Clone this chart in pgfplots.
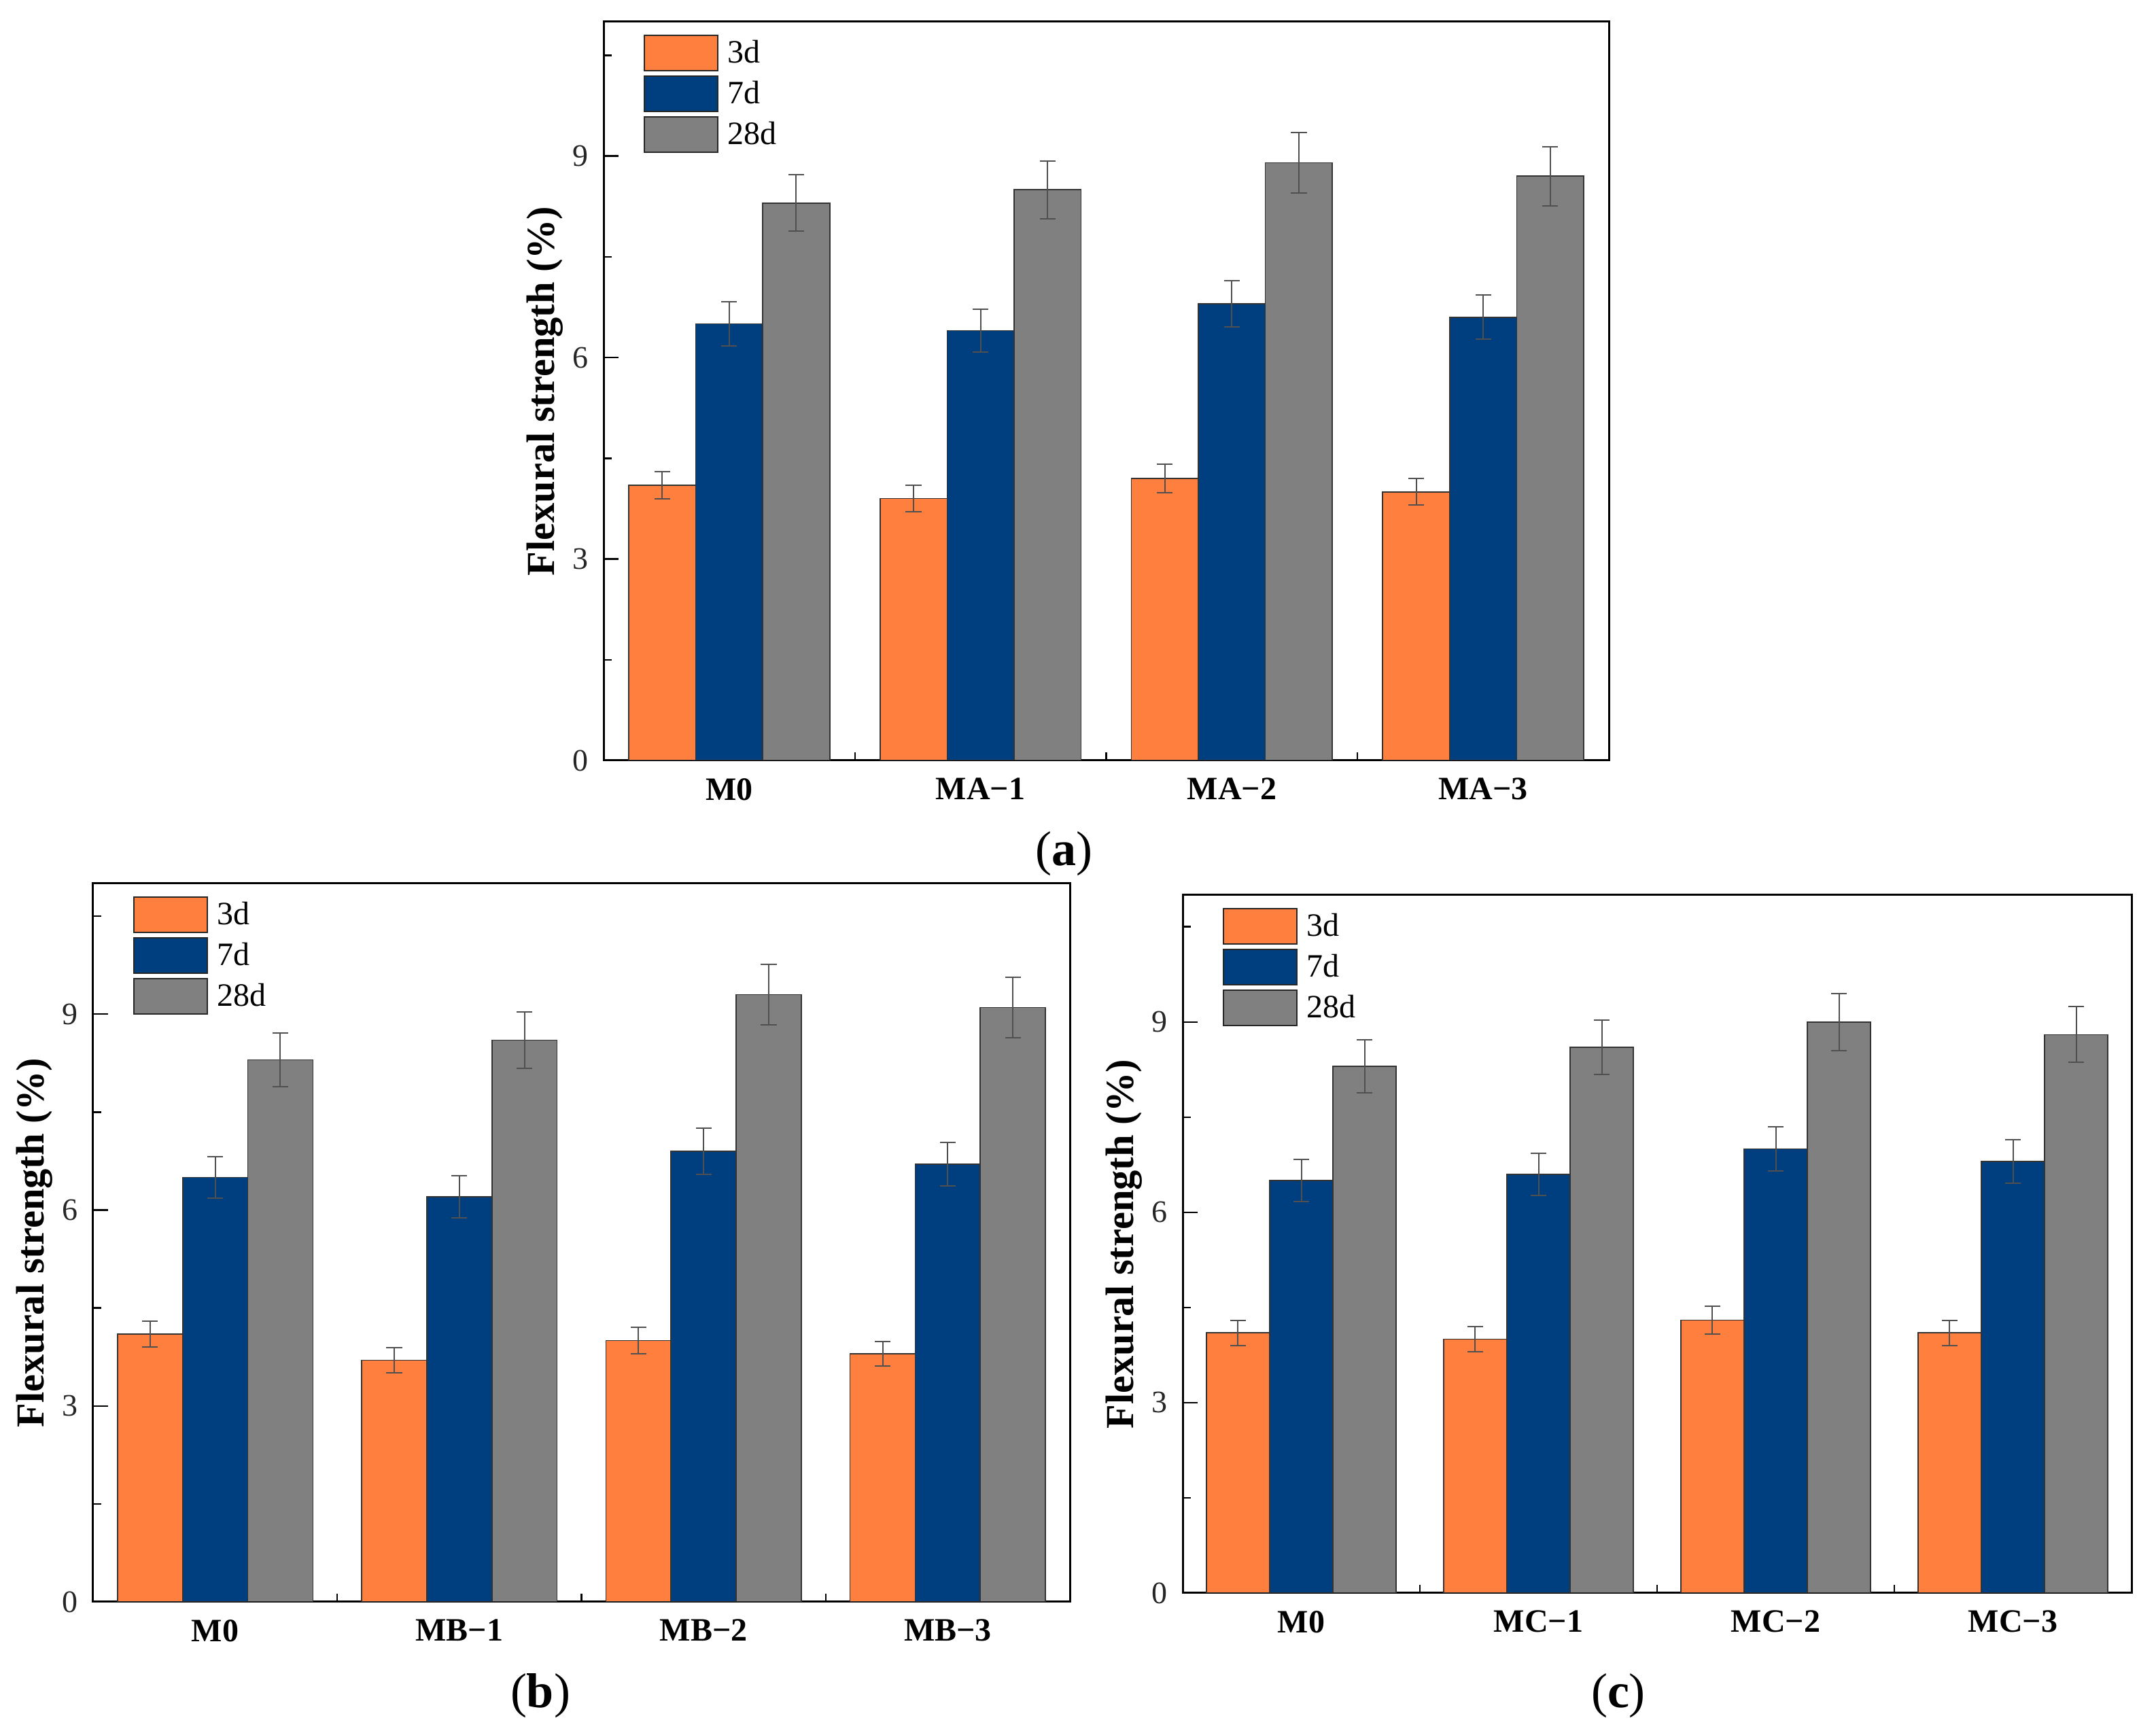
\documentclass[border=0pt]{standalone}
\usepackage{fontspec}
\setmainfont{Liberation Serif}
\usepackage{pgfplots}
\pgfplotsset{compat=1.18}
\usepackage{pgfplotstable}
\definecolor{cOr}{HTML}{FF7F3F}
\definecolor{cBl}{HTML}{003F7F}
\definecolor{cGr}{HTML}{808080}
\definecolor{cErr}{HTML}{505050}

\pgfplotstableread{
x d3 e3 d7 e7 d28 e28
0 4.1 0.20 6.5 0.33 8.3 0.42
1 3.9 0.20 6.4 0.32 8.5 0.43
2 4.2 0.21 6.8 0.34 8.9 0.45
3 4.0 0.20 6.6 0.33 8.7 0.44
}\tabA
\pgfplotstableread{
x d3 e3 d7 e7 d28 e28
0 4.1 0.20 6.5 0.32 8.3 0.41
1 3.7 0.19 6.2 0.32 8.6 0.43
2 4.0 0.20 6.9 0.35 9.3 0.46
3 3.8 0.19 6.7 0.33 9.1 0.46
}\tabB
\pgfplotstableread{
x d3 e3 d7 e7 d28 e28
0 4.1 0.20 6.5 0.33 8.3 0.42
1 4.0 0.20 6.6 0.33 8.6 0.43
2 4.3 0.22 7.0 0.35 9.0 0.45
3 4.1 0.20 6.8 0.34 8.8 0.44
}\tabC

\pgfplotsset{
  leg/.style={legend image code/.code={
      \path[use as bounding box, draw=none, fill=none] (0pt,-7.5pt) rectangle (27pt,7.5pt);
      \draw[fill=#1, draw=black!85, line width=0.6pt] (0pt,-6.3pt) rectangle (27pt,6.7pt);}},
  errs/.style={error bars/.cd, y dir=both, y explicit,
      error bar style={cErr, line width=0.5pt},
      error mark options={rotate=90, mark size=2.9pt, cErr, line width=0.5pt}},
  panel/.style={
    scale only axis,
    anchor=south west,
    xmin=-0.5, xmax=3.5, ymin=0, ymax=11,
    ybar, bar width=0.2667,
    ytick={0,3,6,9}, minor ytick={1.5,4.5,7.5,10.5},
    ytick pos=left, xtick pos=bottom,
    xtick={0,1,2,3}, minor xtick={0.5,1.5,2.5},
    major x tick style={draw=none},
    tick align=inside,
    major tick length=5.5pt, minor tick length=3pt,
    tick style={black, line width=0.6pt},
    axis line style={black, line width=0.75pt},
    /pgf/number format/assume math mode=true,
    yticklabel style={xshift=-2pt, font=\fontsize{11.5}{13}\selectfont, text=black!85},
    xticklabel style={yshift=-3pt, font=\fontsize{12}{14}\selectfont\bfseries},
    ylabel={Flexural strength (\%)},
    ylabel style={at={([xshift=-21.5pt]axis description cs:0,0.5)}, anchor=center,
      font=\fontsize{14.6}{16}\selectfont\bfseries},
    legend cell align=left,
    legend style={draw=none, fill=none, at={(axis description cs:0,1)}, anchor=north west,
      xshift=15pt, yshift=-4.25pt, inner sep=0pt, outer sep=0pt, row sep=0pt,
      nodes={inner sep=0pt, font=\fontsize{12}{14}\selectfont},
      /tikz/every odd column/.append style={column sep=3.5pt}},
  },
}

\begin{document}
\begin{tikzpicture}
\path[use as bounding box] (0pt,0pt) rectangle (793pt,637.5pt);

% (a)
\begin{axis}[panel, at={(222pt,357.75pt)}, width=369.75pt, height=271.75pt,
  xticklabels={M0,MA−1,MA−2,MA−3}]
\addplot[fill=cOr, draw=black!80, line width=0.4pt, bar shift=-0.2667, leg=cOr, errs]
  table[x=x, y=d3, y error=e3] {\tabA};
\addplot[fill=cBl, draw=black!80, line width=0.4pt, bar shift=0, leg=cBl, errs]
  table[x=x, y=d7, y error=e7] {\tabA};
\addplot[fill=cGr, draw=black!80, line width=0.4pt, bar shift=0.2667, leg=cGr, errs]
  table[x=x, y=d28, y error=e28] {\tabA};
\legend{3d,7d,28d}
\end{axis}

% (b)
\begin{axis}[panel, at={(34.25pt,48.25pt)}, width=359.25pt, height=264.25pt,
  xticklabels={M0,MB−1,MB−2,MB−3}]
\addplot[fill=cOr, draw=black!80, line width=0.4pt, bar shift=-0.2667, leg=cOr, errs]
  table[x=x, y=d3, y error=e3] {\tabB};
\addplot[fill=cBl, draw=black!80, line width=0.4pt, bar shift=0, leg=cBl, errs]
  table[x=x, y=d7, y error=e7] {\tabB};
\addplot[fill=cGr, draw=black!80, line width=0.4pt, bar shift=0.2667, leg=cGr, errs]
  table[x=x, y=d28, y error=e28] {\tabB};
\legend{3d,7d,28d}
\end{axis}

% (c)
\begin{axis}[panel, at={(435pt,51.5pt)}, width=349pt, height=256.75pt,
  xticklabels={M0,MC−1,MC−2,MC−3}]
\addplot[fill=cOr, draw=black!80, line width=0.4pt, bar shift=-0.2667, leg=cOr, errs]
  table[x=x, y=d3, y error=e3] {\tabC};
\addplot[fill=cBl, draw=black!80, line width=0.4pt, bar shift=0, leg=cBl, errs]
  table[x=x, y=d7, y error=e7] {\tabC};
\addplot[fill=cGr, draw=black!80, line width=0.4pt, bar shift=0.2667, leg=cGr, errs]
  table[x=x, y=d28, y error=e28] {\tabC};
\legend{3d,7d,28d}
\end{axis}

\node at (391.25pt,323.5pt) {\fontsize{18}{20}\selectfont(\textbf{a})};
\node at (198.75pt,13.75pt) {\fontsize{18}{20}\selectfont(\textbf{b})};
\node at (595.25pt,13.75pt) {\fontsize{18}{20}\selectfont(\textbf{c})};
\end{tikzpicture}
\end{document}
